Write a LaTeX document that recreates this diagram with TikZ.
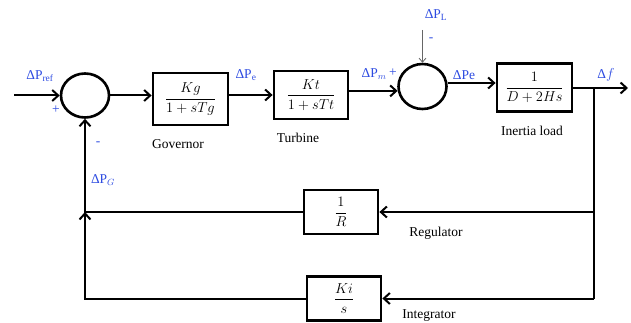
\documentclass[tikz,border=0pt]{standalone}
\usepackage{amsmath}
\usepackage{fontspec}
\setmainfont{Liberation Serif}
\usetikzlibrary{arrows.meta,shapes.geometric}
\definecolor{lblue}{RGB}{45,75,225}
\begin{document}
\begin{tikzpicture}[x=1pt,y=-1pt,
  blk/.style={draw,line width=2.8pt,minimum width=74pt,minimum height=46pt,inner sep=0pt,font=\fontsize{13.5}{15}\selectfont},
  sumc/.style={draw,line width=2.6pt,ellipse,minimum width=48pt,minimum height=44pt,inner sep=0pt},
  conn/.style={line width=2pt,-{Straight Barb[length=6pt,width=11pt,line width=2pt]}},
  line/.style={line width=2pt},
  thinarr/.style={line width=0.8pt,draw=gray!80!black,-{Straight Barb[length=4pt,width=7pt,line width=0.8pt]}},
  lbl/.style={font=\fontsize{13.5}{15}\selectfont,inner sep=0pt},
  sig/.style={text=lblue,font=\fontsize{13.5}{15}\selectfont,inner sep=0pt}]
\useasboundingbox (0,0) rectangle (631,323);

% blocks
\node[sumc] (c1) at (85,95.5) {};
\node[blk,minimum width=75pt,minimum height=52pt] (gov) at (190.5,99) {$\dfrac{Kg}{1+sTg}$};
\node[blk,minimum height=48pt] (turb) at (311,95) {$\dfrac{Kt}{1+sTt}$};
\node[sumc,minimum height=45pt] (c2) at (422.5,86.5) {};
\node[blk,minimum width=75pt,minimum height=48pt] (inr) at (534.5,87.5) {$\dfrac{1}{D+2Hs}$};
\node[blk,minimum height=44pt] (reg) at (341,212) {$\dfrac{1}{R}$};
\node[blk,minimum height=44pt] (int) at (344,298.5) {$\dfrac{Ki}{s}$};

% coordinates
\coordinate (in) at (14,95.5);
\coordinate (out) at (628,88);
\coordinate (br) at (594,88);
\coordinate (pl) at (422.5,30);

% forward path
\draw[conn] (in) -- (c1.west);
\draw[conn] (c1.east) -- (c1.east -| gov.west);
\draw[conn] (turb.west -| gov.east) -- (turb.west);
\draw[conn] (c2.190 -| turb.east) -- (c2.190);
\draw[conn] (c2.8) -- (c2.8 -| inr.west);
\draw[conn] (inr.east |- out) -- (out);
\draw[thinarr] (pl) -- (c2.north);

% feedback
\draw[conn] (br) |- (reg.east);
\draw[line] (br) -- (br |- int.east);
\draw[conn] (br |- int.east) -- (int.east);
\draw[conn] (reg.west) -| (c1.south);
\draw[conn] (int.west) -| (c1.south |- reg.west);

% signal labels
\node[sig] (lref) at (40,76) {ΔP\textsubscript{ref}};
\node[sig] (lp1) at (56,110) {+};
\node[sig] (lm1) at (98,144) {-};
\node[sig] (lg) at (103,180) {ΔP$_{G}$};
\node[sig] (le) at (246,75) {ΔP\textsubscript{e}};
\node[sig] (lm) at (374,74) {ΔP$_{m}$};
\node[sig] (lp2) at (393,73) {+};
\node[sig] (ll) at (436,15) {ΔP\textsubscript{L}};
\node[sig] (lm2) at (431,40) {-};
\node[sig] (lpe) at (464,75) {ΔPe};
\node[sig] (lf) at (606,75) {Δ$f$};

% block labels
\node[lbl] (tgov) at (178,144) {Governor};
\node[lbl] (ttur) at (298,138) {Turbine};
\node[lbl] (tinr) at (532,131) {Inertia load};
\node[lbl] (treg) at (436,233) {Regulator};
\node[lbl] (tint) at (429,316) {Integrator};
\end{tikzpicture}
\end{document}
